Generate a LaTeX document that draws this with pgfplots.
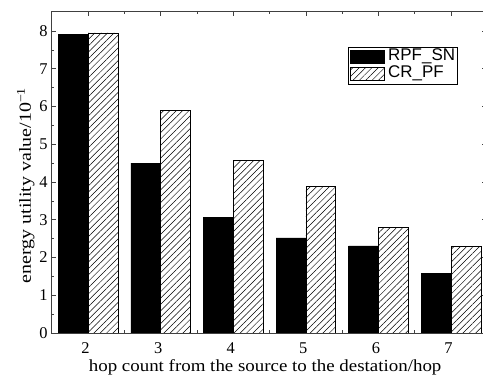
\documentclass[border=0pt]{standalone}
\usepackage{graphicx}
\usepackage{pgfplots}
\pgfplotsset{compat=1.18}
\usepackage{fontspec}
\setmainfont{Liberation Serif}
\newfontfamily\arial{Liberation Sans}
\usetikzlibrary{patterns.meta}
\begin{document}
\begin{tikzpicture}
\begin{axis}[name=ax, scale only axis, width=436.3bp, height=322bp,
  xmin=1.49, xmax=7.5, ymin=0, ymax=8.53,
  ybar=0pt, bar width=0.41,
  xtick={2,...,7}, minor xtick={2.5,3.5,4.5,5.5,6.5},
  ytick={0,...,8}, minor ytick={0.5,1.5,...,7.5},
  tick align=inside, major tick length=5bp, minor tick length=3bp,
  axis line style={line width=0.9pt, draw=black!75},
  every tick/.style={black!75, line width=0.6pt},
  /pgf/number format/assume math mode=true,
  tick label style={font=\fontsize{16.5}{16.5}\selectfont},
  xticklabel style={inner sep=0pt, yshift=-9.5bp, xshift=-2.5bp},
  xlabel={\scalebox{1.117}[1]{hop count from the source to the destation/hop}},
  ylabel={\scalebox{1.18}[1]{energy utility value/10\textsuperscript{−1}}},
  xlabel style={font=\fontsize{17}{17}\selectfont, inner sep=0pt, at={(axis description cs:0.5,0)}, anchor=base, xshift=-4bp, yshift=-38bp},
  ylabel style={font=\fontsize{17}{17}\selectfont, inner sep=0pt, at={(axis description cs:0,0.5)}, anchor=base, xshift=-13.5bp, yshift=20bp},
  legend style={at={(0.681,0.889)}, anchor=north west, font=\arial\fontsize{17}{17}\selectfont, draw=black, inner sep=1.5bp, row sep=0bp, column sep=3bp, legend cell align=left,
    nodes={text height=11.5bp, text depth=3.5bp, inner sep=1bp}},
  legend image code/.code={\draw[#1] (0bp,-6.3bp) rectangle (34bp,6.3bp);},
]
\addplot[fill=black, draw=black] coordinates {(2,7.91) (3,4.50) (4,3.07) (5,2.52) (6,2.31) (7,1.58)};
\addplot[draw=black, pattern={Lines[angle=45,distance=4.5bp,line width=0.5bp]}] coordinates {(2,7.95) (3,5.90) (4,4.58) (5,3.89) (6,2.79) (7,2.29)};
\legend{RPF\_SN, CR\_PF}
\coordinate (o) at (rel axis cs:0,0);
\end{axis}
\pgfresetboundingbox
\path ([shift={(-51bp,-43bp)}]o) rectangle ([shift={(432bp,333bp)}]o);
\end{tikzpicture}
\end{document}
